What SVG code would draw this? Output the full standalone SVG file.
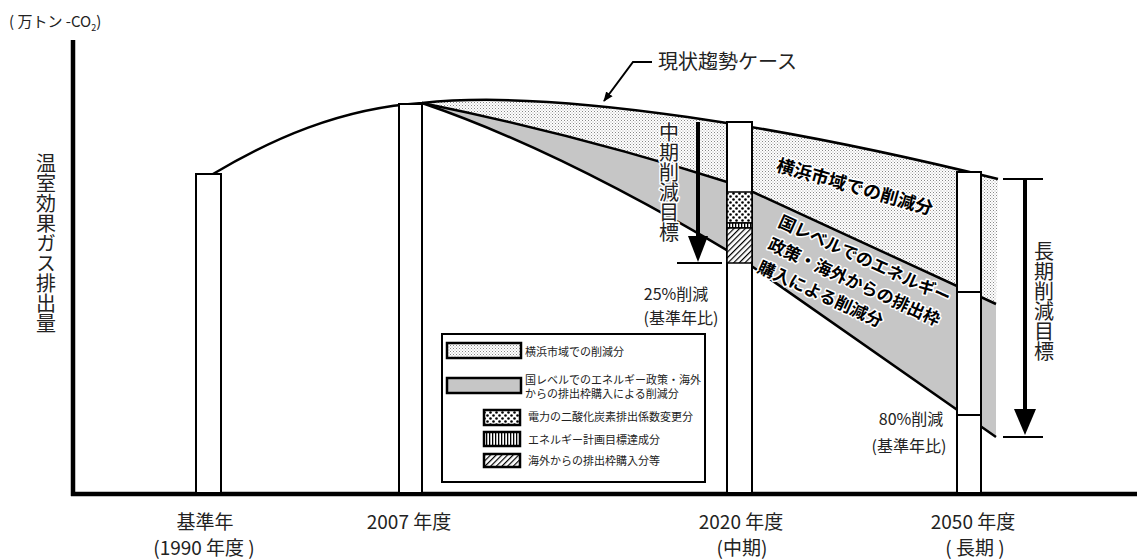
<svg xmlns="http://www.w3.org/2000/svg" width="1137" height="559" viewBox="0 0 1137 559">
<defs>
<pattern id="pYoko" width="3" height="3" patternUnits="userSpaceOnUse"><rect width="3" height="3" fill="#fff"/><rect x="0" y="0" width="1" height="1" fill="#888"/><rect x="1.5" y="1.5" width="1" height="1" fill="#aaa"/></pattern>
<pattern id="pDots" width="6" height="6" patternUnits="userSpaceOnUse"><rect width="6" height="6" fill="#fff"/><circle cx="1.5" cy="1.5" r="1.3" fill="#000"/><circle cx="4.5" cy="4.5" r="1.3" fill="#000"/></pattern>
<pattern id="pVert" width="3" height="3" patternUnits="userSpaceOnUse"><rect width="3" height="3" fill="#fff"/><rect width="1.3" height="3" fill="#000"/></pattern>
<pattern id="pDiag" width="4" height="4" patternUnits="userSpaceOnUse" patternTransform="rotate(45)"><rect width="4" height="4" fill="#fff"/><rect width="1.2" height="4" fill="#000"/></pattern>
<marker id="ah" viewBox="0 0 10 10" refX="9" refY="5" markerWidth="10" markerHeight="10" markerUnits="userSpaceOnUse" orient="auto"><path d="M0,1 L10,5 L0,9 Z" fill="#000"/></marker>
</defs>
<style>
.t{font-family:"Noto Sans CJK JP","Noto Sans",sans-serif;fill:#222}
.v{writing-mode:vertical-rl}
.b{font-weight:bold;fill:#000;stroke:#fff;stroke-width:3;paint-order:stroke;stroke-linejoin:round}
.halo{stroke:#fff;stroke-width:3;paint-order:stroke;stroke-linejoin:round}
.ln{fill:none;stroke:#000;stroke-width:2.5}
.bar{fill:#fff;stroke:#000;stroke-width:2}
.sw{stroke:#000;stroke-width:2.5}
.axis{stroke:#000;stroke-width:4.5;fill:none}
.lg{font-size:11px}
.xl{font-size:19px;text-anchor:middle}
</style>

<g id="axes">
<line class="axis" x1="73" y1="40" x2="73" y2="496"/>
<line class="axis" x1="71" y1="494" x2="1137" y2="494"/>
<text class="t" x="9" y="27" font-size="15">( 万トン -CO<tspan font-size="9" dy="4">2</tspan><tspan dy="-4">)</tspan></text>
<text class="t v" x="46" y="153" font-size="20">温室効果ガス排出量</text>
</g>

<g id="regions">
<path id="region-yokohama" d="M422,103 C560,88 800,130 998,179 L996,304 L740,186 Q580,135 422,103 Z" fill="url(#pYoko)"/>
<path id="region-national" d="M422,103 Q580,135 740,186 L996,304 L996,437 L740,258 Q560,150 422,103 Z" fill="#c6c6c6"/>
</g>

<g id="connectors">
<path class="ln" d="M213,174 C270,140 340,108 422,103 C560,88 800,130 998,179"/>
<path class="ln" d="M422,103 Q580,135 740,186 L996,304"/>
<path class="ln" d="M422,103 Q560,150 740,258 L996,437"/>
<path d="M652,62 L633,62 L604,101" fill="none" stroke="#000" stroke-width="2" marker-end="url(#ah)"/>
</g>

<g id="bar-1990"><rect class="bar" x="196" y="174" width="25" height="319"/></g>
<g id="bar-2007"><rect class="bar" x="399" y="104" width="23" height="389"/></g>
<g id="bar-2020">
<rect class="bar" x="727" y="122" width="25" height="371"/>
<rect x="727" y="192" width="25" height="31" fill="url(#pDots)" stroke="#000" stroke-width="1.5"/>
<rect x="727" y="223" width="25" height="5" fill="url(#pVert)" stroke="#000" stroke-width="1.5"/>
<rect x="727" y="228" width="25" height="35" fill="url(#pDiag)" stroke="#000" stroke-width="1.5"/>
</g>
<g id="bar-2050">
<rect class="bar" x="957" y="172" width="24" height="321"/>
<line x1="957" y1="292" x2="981" y2="292" stroke="#000" stroke-width="2"/>
<line x1="957" y1="415" x2="981" y2="415" stroke="#000" stroke-width="2"/>
</g>

<g id="mid-target">
<line x1="698" y1="122" x2="698" y2="240" stroke="#000" stroke-width="4"/>
<polygon points="688,236 708,236 698,262" fill="#000"/>
<line x1="677" y1="263" x2="722" y2="263" stroke="#000" stroke-width="2"/>
<text class="t v halo" x="669" y="122" font-size="20">中期削減目標</text>
<text class="t" x="676" y="300" font-size="16" text-anchor="middle">25%削減</text>
<text class="t" x="681" y="324" font-size="16" text-anchor="middle">(基準年比)</text>
</g>

<g id="long-target">
<line x1="1003" y1="179" x2="1043" y2="179" stroke="#000" stroke-width="2"/>
<line x1="1003" y1="437" x2="1043" y2="437" stroke="#000" stroke-width="2"/>
<line x1="1025" y1="179" x2="1025" y2="412" stroke="#000" stroke-width="4"/>
<polygon points="1014,409 1036,409 1025,435" fill="#000"/>
<text class="t v" x="1044" y="241" font-size="20">長期削減目標</text>
<text class="t" x="911" y="425" font-size="16" text-anchor="middle">80%削減</text>
<text class="t" x="909" y="452" font-size="16" text-anchor="middle">(基準年比)</text>
</g>

<g id="trend-label">
<text class="t" x="658" y="69" font-size="20">現状趨勢ケース</text>
</g>

<g id="label-yokohama">
<text class="t b" font-size="18" text-anchor="middle" transform="translate(853,193) rotate(16)">横浜市域での削減分</text>
</g>
<g id="label-national" transform="translate(777,226) rotate(24.5)">
<text class="t b" font-size="17" x="0" y="0">国レベルでのエネルギー</text>
<text class="t b" font-size="17" x="0" y="25">政策・海外からの排出枠</text>
<text class="t b" font-size="17" x="0" y="50">購入による削減分</text>
</g>

<g id="legend">
<rect x="442" y="334" width="263" height="148" fill="#fff" stroke="#000" stroke-width="2"/>
<rect class="sw" x="447" y="343" width="74" height="15" fill="url(#pYoko)"/>
<text class="t lg" x="525" y="356">横浜市域での削減分</text>
<rect class="sw" x="447" y="378" width="74" height="15" fill="#c6c6c6"/>
<text class="t lg" x="525" y="384">国レベルでのエネルギー政策・海外</text>
<text class="t lg" x="525" y="398">からの排出枠購入による削減分</text>
<rect class="sw" x="484" y="410" width="36" height="15" fill="url(#pDots)"/>
<text class="t lg" x="528" y="421">電力の二酸化炭素排出係数変更分</text>
<rect class="sw" x="484" y="432" width="36" height="14" fill="url(#pVert)"/>
<text class="t lg" x="528" y="444">エネルギー計画目標達成分</text>
<rect class="sw" x="484" y="454" width="36" height="13" fill="url(#pDiag)"/>
<text class="t lg" x="528" y="465">海外からの排出枠購入分等</text>
</g>

<g id="x-labels">
<text class="t xl" x="205" y="529">基準年</text>
<text class="t xl" x="204" y="555">(1990 年度 )</text>
<text class="t xl" x="409" y="529">2007 年度</text>
<text class="t xl" x="741" y="529">2020 年度</text>
<text class="t xl" x="742" y="555">(中期)</text>
<text class="t xl" x="973" y="529">2050 年度</text>
<text class="t xl" x="975" y="555">( 長期 )</text>
</g>
</svg>
